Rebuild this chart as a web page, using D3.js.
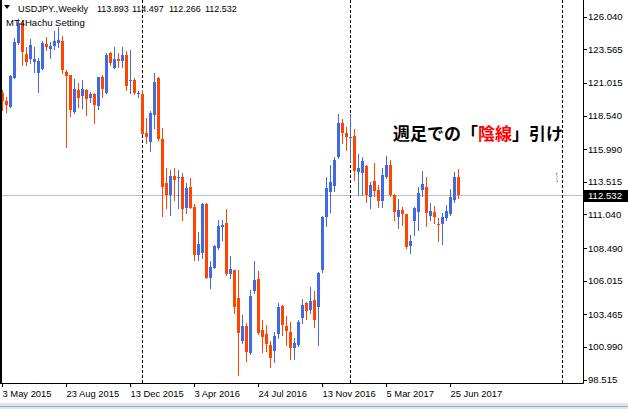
<!DOCTYPE html>
<html><head><meta charset="utf-8">
<script src="https://cdn.jsdelivr.net/npm/d3@7"></script>
<style>body{margin:0;background:#fff;overflow:hidden} svg{display:block}</style>
</head><body>
<svg id="c" width="628" height="409"></svg>
<script>
// ---- data (USDJPY weekly, starting week of 3 May 2015) ----
const startDate = "2015-05-03";
const opens  = [120.23,119.67,119.21,121.41,124.02,125.54,123.21,122.83,122.63,121.79,122.10,123.99,123.61,123.84,124.07,124.20,121.84,121.62,118.83,120.48,120.05,120.48,119.90,120.20,119.29,121.46,120.28,123.29,122.17,122.83,122.68,123.13,121.13,121.24,120.15,120.18,117.19,116.56,118.58,121.36,116.76,113.40,112.51,113.95,113.83,113.85,111.55,113.15,111.63,107.96,108.09,111.83,106.19,107.00,108.47,110.11,110.36,106.50,106.82,104.67,101.46,102.57,100.50,105.23,106.11,102.27,101.94,101.13,100.68,101.97,104.09,102.57,102.09,100.93,101.13,103.16,104.34,103.79,104.55,104.04,106.82,110.87,112.77,113.20,115.37,118.00,117.19,116.89,116.99,114.28,114.21,114.71,112.38,113.57,112.89,112.08,113.85,114.79,112.51,110.87,111.37,111.07,108.64,110.54,111.20,112.89,113.10,110.92,111.25,110.30,110.29,110.79,111.07,112.13,113.893];
const highs  = [120.48,119.92,121.60,124.40,125.87,125.79,123.77,124.32,123.77,122.93,124.20,124.47,124.15,124.98,125.23,124.57,122.00,121.62,121.31,121.03,121.24,120.55,120.30,120.28,121.49,121.62,123.31,123.39,123.72,123.26,123.72,123.46,123.51,121.41,120.40,120.48,118.38,118.89,121.74,121.49,117.57,114.56,114.41,114.56,114.41,114.16,113.40,113.83,111.83,109.73,111.88,111.93,107.53,108.72,110.62,110.62,111.45,107.90,106.82,106.82,103.41,102.78,105.30,107.50,106.75,103.03,102.65,101.46,102.09,104.34,104.17,103.33,102.90,101.64,103.03,104.60,104.42,105.55,105.25,106.70,110.92,113.85,114.79,115.37,118.66,118.25,117.65,118.66,117.49,115.62,115.42,114.79,113.52,114.97,113.27,114.54,115.47,115.17,112.60,112.18,111.58,111.10,109.48,111.63,113.15,114.36,113.85,111.93,111.68,110.79,111.17,111.75,112.94,114.28,114.497];
const lows   = [118.96,118.84,119.16,121.36,123.97,122.37,122.37,122.50,121.87,120.35,122.05,123.51,122.93,123.56,123.72,121.74,116.13,118.50,118.71,119.21,119.14,118.58,119.59,118.00,119.01,119.97,120.23,122.37,122.12,122.20,122.25,120.48,120.28,120.17,119.97,117.14,116.48,115.88,117.62,116.68,110.92,111.50,110.99,112.13,111.50,110.62,111.17,111.50,107.58,107.58,107.71,106.19,105.48,106.95,108.42,109.10,106.44,106.20,103.53,98.86,101.26,99.94,100.45,105.10,101.97,100.63,100.70,99.49,99.87,101.64,101.89,101.13,100.05,100.05,101.06,102.78,103.08,103.59,102.52,101.13,106.70,110.16,111.25,112.84,115.29,116.43,115.93,115.04,113.65,112.51,112.51,112.00,111.50,112.44,111.63,111.63,113.78,112.45,110.62,110.03,110.24,108.50,108.09,109.48,109.86,112.44,110.16,110.62,110.36,109.05,108.77,110.62,110.99,112.00,112.266];
const closes = [119.67,119.37,121.54,124.12,125.54,123.39,122.63,123.89,122.83,122.68,124.07,123.77,123.82,124.20,124.27,122.00,121.57,118.96,120.55,119.90,120.55,119.80,120.17,119.34,121.46,120.55,123.13,122.53,122.83,122.70,123.13,120.78,121.21,120.23,120.25,117.17,116.91,118.71,121.11,116.76,113.15,112.51,113.95,113.65,113.90,111.45,113.07,111.55,107.96,108.80,111.80,106.24,107.08,108.64,110.16,110.24,106.49,106.90,104.04,102.07,102.57,100.63,104.85,106.06,102.02,101.76,101.21,100.17,101.82,103.99,102.65,102.22,100.93,101.26,102.85,104.17,103.73,104.50,103.03,106.62,110.87,113.07,113.47,115.17,117.95,117.24,116.94,116.92,114.36,114.59,115.09,112.51,113.27,112.82,112.08,114.03,114.79,112.51,111.25,111.37,111.05,108.54,109.02,111.55,112.69,113.35,111.17,111.30,110.82,110.28,110.82,111.30,112.38,113.85,112.532];
const priceTicks = [126.040,123.565,121.015,118.540,115.990,113.515,111.040,108.490,106.015,103.465,100.990,98.515];
const timeTickIdx = [0,16,32,48,64,80,96,112];
const timeTickLabels = ["3 May 2015","23 Aug 2015","13 Dec 2015","3 Apr 2016","24 Jul 2016","13 Nov 2016","5 Mar 2017","25 Jun 2017"];
const separatorIdx = [35,87,140];
const symbolText = "USDJPY.,Weekly";
const indicatorLabel = "MT4Hachu Setting";
const lastPrice = 112.532;

// ---- layout ----
const svg = d3.select("#c");
const plotR = 583, plotB = 383;
const up = "#4169E1", dn = "#FF4500";
const font = "'Liberation Sans', Arial, sans-serif";

const x = d3.scaleLinear().domain([0, 1]).range([2.5, 6.5]);
const y = d3.scaleLinear().domain([98.515, 126.040]).range([379.5, 16.7]);

svg.append("rect").attr("width",628).attr("height",409).attr("fill","#fff");

// current price line
const ly = Math.round(y(lastPrice))+0.5;
svg.append("line").attr("x1",0).attr("x2",plotR).attr("y1",ly).attr("y2",ly)
  .attr("stroke","#c0c0c0").attr("stroke-width",1);

// period separators
svg.selectAll(".sep").data(separatorIdx).join("line")
  .attr("x1",d=>x(d)).attr("x2",d=>x(d))
  .attr("y1",0).attr("y2",plotB).attr("stroke","#000").attr("stroke-width",1).attr("stroke-dasharray","3,2");

// candles
const bars = opens.map((o,i)=>({i,o,h:highs[i],l:lows[i],c:closes[i]}));
const g = svg.append("g");
g.selectAll(".wick").data(bars).join("line")
  .attr("x1",d=>x(d.i)).attr("x2",d=>x(d.i))
  .attr("y1",d=>Math.round(y(d.h))).attr("y2",d=>Math.round(y(d.l))+1)
  .attr("stroke",d=>d.c>=d.o?up:dn).attr("stroke-width",1);
g.selectAll(".body").data(bars).join("rect")
  .attr("x",d=>x(d.i)-1.5).attr("width",3)
  .attr("y",d=>Math.round(y(Math.max(d.o,d.c))))
  .attr("height",d=>Math.max(1,Math.round(y(Math.min(d.o,d.c)))-Math.round(y(Math.max(d.o,d.c)))))
  .attr("fill",d=>d.c>=d.o?up:dn);

// small object marker
svg.append("rect").attr("x",556).attr("y",173).attr("width",2).attr("height",9).attr("fill","#d8d8d8");
svg.append("rect").attr("x",556).attr("y",173).attr("width",1).attr("height",1).attr("fill",dn);
svg.append("rect").attr("x",557).attr("y",181).attr("width",1).attr("height",1).attr("fill",dn);

// frame
svg.append("line").attr("x1",plotR+0.5).attr("x2",plotR+0.5).attr("y1",0).attr("y2",plotB+0.5).attr("stroke","#000");
svg.append("line").attr("x1",0).attr("x2",plotR+0.5).attr("y1",plotB+0.5).attr("y2",plotB+0.5).attr("stroke","#000");
svg.append("rect").attr("x",0).attr("y",0).attr("width",2).attr("height",plotB+1).attr("fill","#000");

// price axis
const ya = svg.append("g");
ya.selectAll("line").data(priceTicks).join("line")
  .attr("x1",plotR).attr("x2",plotR+4).attr("y1",d=>Math.round(y(d))+0.5).attr("y2",d=>Math.round(y(d))+0.5).attr("stroke","#000");
ya.selectAll("text").data(priceTicks).join("text")
  .attr("x",588).attr("y",d=>y(d)+3.5).attr("font-family",font).attr("font-size","9.6px").attr("fill","#000")
  .text(d=>d.toFixed(3));
// last price label
svg.append("rect").attr("x",plotR+1).attr("y",Math.round(y(lastPrice))-5).attr("width",44).attr("height",12).attr("fill","#000");
svg.append("text").attr("x",588).attr("y",y(lastPrice)+4).attr("font-family",font).attr("font-size","9.6px").attr("fill","#fff").text(lastPrice.toFixed(3));

// time axis
const xa = svg.append("g");
xa.selectAll("line").data(timeTickIdx).join("line")
  .attr("x1",d=>x(d)).attr("x2",d=>x(d)).attr("y1",plotB).attr("y2",plotB+4).attr("stroke","#000");
xa.selectAll("text").data(timeTickIdx).join("text")
  .attr("x",d=>x(d)).attr("y",397).attr("font-family",font).attr("font-size","9.4px").attr("fill","#000")
  .text((d,k)=>timeTickLabels[k]);

// bottom window strip
svg.append("rect").attr("x",0).attr("y",403).attr("width",628).attr("height",6).attr("fill","#dde6f0");
svg.append("line").attr("x1",0).attr("x2",628).attr("y1",406.5).attr("y2",406.5).attr("stroke","#a0a8b4");

// header
svg.append("path").attr("d","M4,5 L10,5 L7,9 Z").attr("fill","#000");
svg.append("text").attr("x",18).attr("y",11.5).attr("font-family",font).attr("font-size","9.2px").attr("fill","#000")
  .text(symbolText);
const hv = [opens[114],highs[114],lows[114],closes[114]];
const hx = [97,132,169,205];
svg.selectAll(".hv").data(hv).join("text")
  .attr("x",(d,k)=>hx[k]).attr("y",11.5).attr("font-family",font).attr("font-size","9px").attr("fill","#000")
  .text(d=>d.toFixed(3));
svg.append("text").attr("x",6).attr("y",26).attr("font-family",font).attr("font-size","9.5px").attr("fill","#000")
  .text(indicatorLabel);

// annotation
const ann = svg.append("text").attr("x",393).attr("y",139.5).attr("font-family","'Noto Sans CJK JP', sans-serif")
  .attr("font-size","17px").attr("font-weight","bold").attr("fill","#000");
ann.append("tspan").text("週足での「");
ann.append("tspan").attr("fill","#ff0000").text("陰線");
ann.append("tspan").text("」引け");
</script>
</body></html>
